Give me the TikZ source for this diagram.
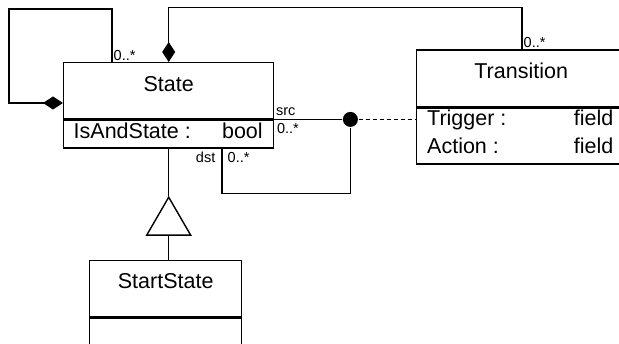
\documentclass[tikz,border=0pt]{standalone}
\usepackage{fontspec}
\setmainfont{Liberation Sans}
\usetikzlibrary{arrows.meta,positioning}

\begin{document}
\begin{tikzpicture}[x=1pt,y=-1pt,line width=1.4pt,
    classbox/.style={draw,rectangle,inner sep=0pt,anchor=north west},
    classname/.style={inner sep=0pt,anchor=base,font=\fontsize{21.5}{24}\selectfont},
    attr/.style={inner sep=0pt,font=\fontsize{21.5}{24}\selectfont},
    mult/.style={inner sep=1pt,font=\fontsize{14.5}{16}\selectfont},
    composite/.style={-{Diamond[length=20pt,width=13pt]}},
    generalize/.style={-{Triangle[open,length=40pt,width=46pt]}},
    link/.style={dash pattern=on 4pt off 3pt}]
 \useasboundingbox (0,0) rectangle (619,344);
 % classes
 \node[classbox,minimum width=210,minimum height=56] (state) at (63,62) {};
 \node[classbox,minimum width=210,minimum height=28] (state-attr) at (state.south west) {};
 \node[classname] (state-name) at ([yshift=-29.7pt]state.north) {State};
 \node[attr,anchor=base west] (state-key) at ([xshift=10pt,yshift=-19.3pt]state-attr.north west) {IsAndState :};
 \node[attr,anchor=base east] (state-type) at ([xshift=-11pt,yshift=-19.3pt]state-attr.north east) {bool};

 \node[classbox,minimum width=209,minimum height=56.5] (trans) at (416,49.5) {};
 \node[classbox,minimum width=209,minimum height=56] (trans-attr) at (trans.south west) {};
 \node[classname] (trans-name) at ([yshift=-28.8pt]trans.north) {Transition};
 \node[attr,anchor=base west] (trigger-key) at ([xshift=10.5pt,yshift=-18pt]trans-attr.north west) {Trigger :};
 \node[attr,anchor=base east] (trigger-type) at ([xshift=-12.3pt,yshift=-18pt]trans-attr.north east) {field};
 \node[attr,anchor=base west] (action-key) at ([xshift=10.5pt,yshift=-45.7pt]trans-attr.north west) {Action :};
 \node[attr,anchor=base east] (action-type) at ([xshift=-12.3pt,yshift=-45.7pt]trans-attr.north east) {field};

 \node[classbox,minimum width=152,minimum height=56] (start) at (89,260) {};
 \node[classbox,minimum width=152,minimum height=56] (start-attr) at (start.south west) {};
 \node[classname] (start-name) at ([yshift=-28.3pt]start.north) {StartState};

 % composition: state in state
 \draw[composite] ([xshift=49pt]state.north west) node[mult,anchor=south west]{0..*}
   |- ++(-103,-53) |- ([yshift=-41pt]state.north west);
 % composition: transitions of a state
 \draw[composite] ([xshift=106pt]trans.north west) node[mult,anchor=south west]{0..*}
   |- ([yshift=54.5pt]state.north) -- (state.north);

 % src / dst association with its class
 \node[circle,fill,inner sep=0pt,minimum size=15pt] (joint) at ([xshift=76pt]state-attr.north east) {};
 \draw (state-attr.north east) -- (joint);
 \draw (joint) |- ([xshift=159pt,yshift=-45pt]state-attr.south west) -- ([xshift=159pt]state-attr.south west);
 \draw[link] (joint) -- (joint -| trans-attr.west);
 \node[mult,anchor=south west] (src) at ([yshift=2pt]state-attr.north east) {src};
 \node[mult,anchor=base west] (src-mult) at ([xshift=1pt,yshift=-14.5pt]state-attr.north east) {0..*};
 \node[mult,anchor=base east] (dst) at ([xshift=154pt,yshift=-13.3pt]state-attr.south west) {dst};
 \node[mult,anchor=base west] (dst-mult) at ([xshift=163pt,yshift=-13.3pt]state-attr.south west) {0..*};

 % generalization
 \coordinate (gen) at ([yshift=-47pt]state-attr.south);
 \draw[generalize] (start.north -| gen) -- (gen);
 \draw (gen) -- (state-attr.south);
\end{tikzpicture}
\end{document}
